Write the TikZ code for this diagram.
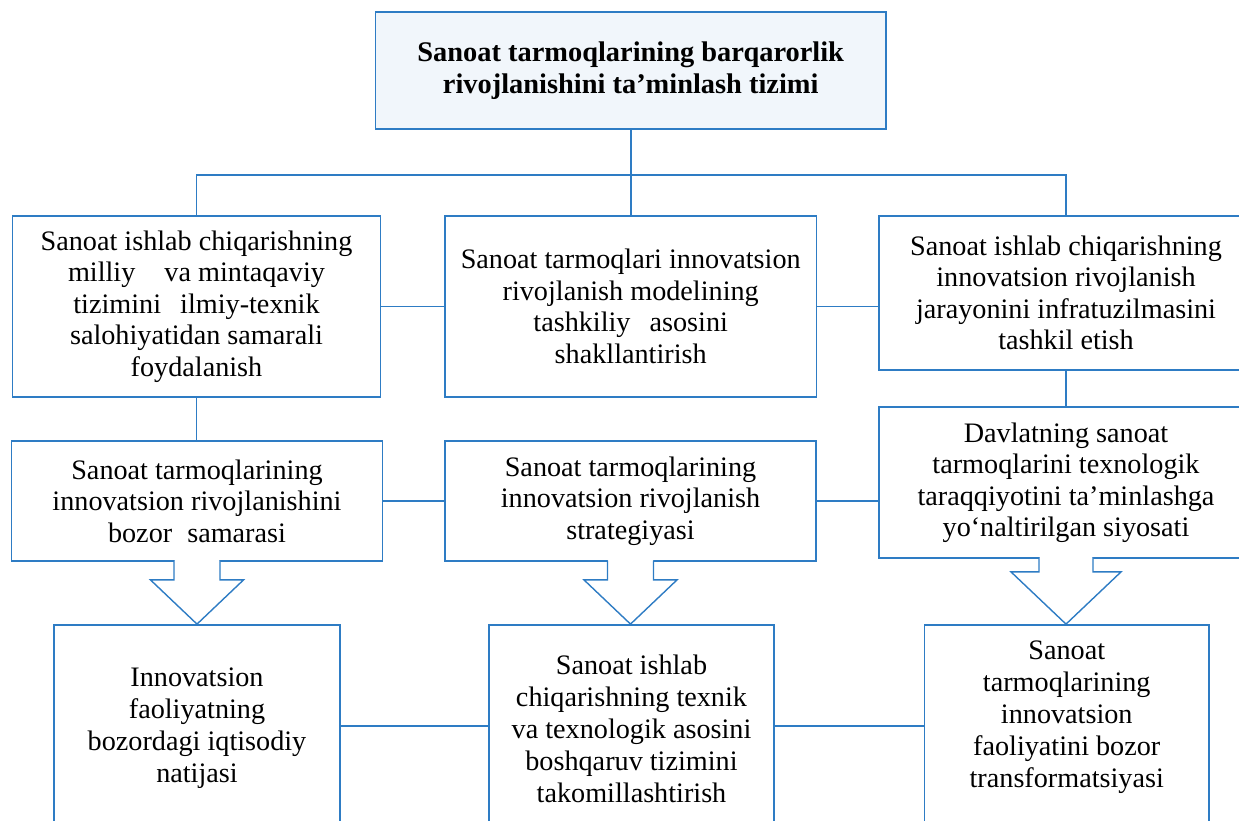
\documentclass[tikz,border=0pt]{standalone}
\usepackage{fontspec}
\setmainfont{Liberation Serif}
\usetikzlibrary{calc}
\definecolor{bordc}{RGB}{46,124,196}
\definecolor{topfill}{RGB}{241,246,251}
\newcommand\blkarrow[5]{%
  \fill[white] ($(#1.south)+(-#3+0.7,-2.4)$) rectangle ($(#1.south)+(#3-0.7,0.5)$);
  \draw[barrow] ($(#1.south)+(-#3,-1.2)$) -- ($(#1.south)+(-#3,#5)$) -- ($(#1.south)+(-#4,#5)$)
    -- (#1.south |- #2.north) -- ($(#1.south)+(#4,#5)$) -- ($(#1.south)+(#3,#5)$) -- ($(#1.south)+(#3,-1.2)$);
}
\begin{document}
\begin{tikzpicture}[x=1pt,y=-1pt,
  box/.style={draw=bordc, line width=1.8pt, rectangle, inner sep=0pt, align=center,
    font=\fontsize{28.2}{31.5}\selectfont},
  txt/.style={align=center, inner sep=0pt, font=\fontsize{28.2}{32}\selectfont},
  conn/.style={draw=bordc, line width=1.8pt},
  barrow/.style={draw=bordc, line width=1.4pt, fill=white, line join=miter}]
\useasboundingbox (0,0) rectangle (1239,820);
\clip (0,0) rectangle (1239,820);

% top
\node[box, fill=topfill, minimum width=510.5pt, minimum height=117.3pt,
  font=\fontsize{28.4}{32}\selectfont\bfseries] (top) at (630.7,70.3)
  {Sanoat tarmoqlarining barqarorlik\\rivojlanishini ta’minlash tizimi};

% row 1
\node[box, minimum width=368pt, minimum height=181pt] (l1) at (196.5,306.5)
  {Sanoat ishlab chiqarishning\\milliy \hspace{22pt}va mintaqaviy\\tizimini \hspace{12pt}ilmiy-texnik\\salohiyatidan samarali\\foydalanish};
\node[box, minimum width=371.5pt, minimum height=181pt] (m1) at (630.7,306.5)
  {Sanoat tarmoqlari innovatsion\\rivojlanish modelining\\tashkiliy \hspace{12pt}asosini\\shakllantirish};
\node[box, minimum width=374pt, minimum height=154pt] (r1) at (1066,293)
  {Sanoat ishlab chiqarishning\\innovatsion rivojlanish\\jarayonini infratuzilmasini\\tashkil etish};

% row 2
\node[box, minimum width=371pt, minimum height=120pt] (l2) at (197,501)
  {Sanoat tarmoqlarining\\innovatsion rivojlanishini\\bozor \hspace{8pt}samarasi};
\node[box, minimum width=371pt, minimum height=120pt] (m2) at (630.5,501)
  {Sanoat tarmoqlarining\\innovatsion rivojlanish\\strategiyasi};
\node[box, minimum width=374pt, minimum height=151pt] (r2) at (1066,482.5)
  {Davlatning sanoat\\tarmoqlarini texnologik\\taraqqiyotini ta’minlashga\\yo‘naltirilgan siyosati};

% row 3
\node[box, minimum width=286pt, minimum height=215pt] (l3) at (197,732.5) {};
\node[box, minimum width=285pt, minimum height=215pt] (m3) at (631.5,732.5) {};
\node[box, minimum width=284.5pt, minimum height=215pt] (r3) at (1066.75,732.5) {};
\node[txt] (l3t) at (197,728) {Innovatsion\\faoliyatning\\bozordagi iqtisodiy\\natijasi};
\node[txt] (m3t) at (631.5,729) {Sanoat ishlab\\chiqarishning texnik\\va texnologik asosini\\boshqaruv tizimini\\takomillashtirish};
\node[txt] (r3t) at (1066.75,717) {Sanoat\\tarmoqlarining\\innovatsion\\faoliyatini bozor\\transformatsiyasi};

% connectors
\coordinate (bus) at (630.7,175);
\coordinate (c3) at (0,726);
\draw[conn] (top.south) -- (m1.north);
\draw[conn] (l1.north) -- (l1.north |- bus) -- (r1.north |- bus) -- (r1.north);
\draw[conn] (l1) -- (m1);
\draw[conn] (m1.east) -- (m1.east -| r1.west);
\draw[conn] (l1.south) -- (l1.south |- l2.north);
\draw[conn] (r1.south) -- (r2.north);
\draw[conn] (l2) -- (m2);
\draw[conn] (m2.east) -- (m2.east -| r2.west);
\draw[conn] (l3.east |- c3) -- (m3.west |- c3);
\draw[conn] (m3.east |- c3) -- (r3.west |- c3);

% block arrows
\blkarrow{l2}{l3}{23}{46.5}{18}
\blkarrow{m2}{m3}{23}{46.5}{18}
\blkarrow{r2}{r3}{27}{55}{13}
\end{tikzpicture}
\end{document}
